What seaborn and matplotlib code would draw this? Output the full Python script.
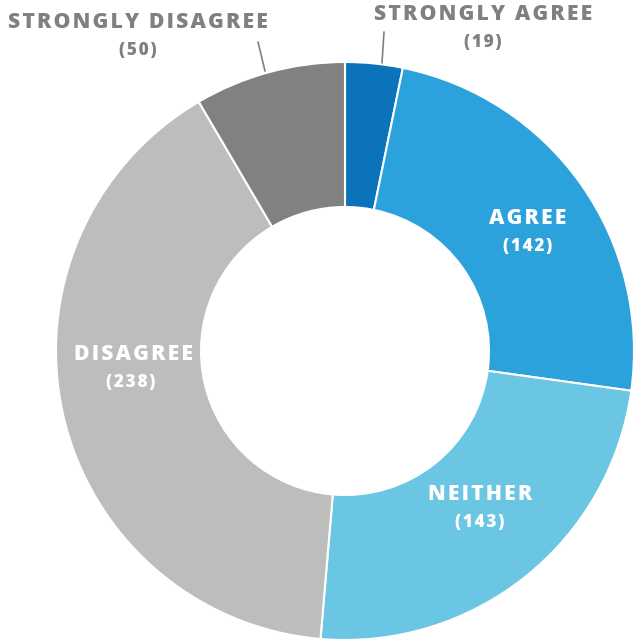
import matplotlib
matplotlib.use('Agg')
import matplotlib.pyplot as plt
import seaborn as sns

# survey response counts, clockwise from 12 o'clock
labels = ['STRONGLY AGREE', 'AGREE', 'NEITHER', 'DISAGREE', 'STRONGLY DISAGREE']
counts = [19, 142, 143, 238, 50]
colors = ['#0a73ba', '#2ca2dc', '#6ac6e3', '#bdbdbb', '#818181']

sns.set_theme(style='white')
plt.rcParams['font.family'] = ['Open Sans', 'DejaVu Sans']

W, H = 638, 642
GAP = '\u200a'


def spaced(s):
    """Fake letter spacing with hair spaces."""
    return GAP.join(s)


def Y(py):
    # pixel row (from top) -> data y
    return H - py


fig = plt.figure(figsize=(W / 100, H / 100), dpi=100)
ax = fig.add_axes([0, 0, 1, 1])

cx, cy = 345, 351
r_out = 289
ax.pie(counts, colors=colors, startangle=90, counterclock=False,
       radius=r_out, center=(cx, Y(cy)),
       wedgeprops={'width': 145, 'edgecolor': 'white', 'linewidth': 1.5})
ax.set_xlim(0, W)
ax.set_ylim(0, H)
ax.set_aspect('equal')
ax.axis('off')

grey = '#808080'
# outside labels with leader lines (pixel positions)
outside = {
    'STRONGLY DISAGREE': ((138, 23), (138, 51), [(258, 42), (265, 71)]),
    'STRONGLY AGREE': ((483, 15), (483, 43), [(384, 32), (382, 63)]),
}
# inside labels
inside = {
    'AGREE': ((528, 218), (528, 246)),
    'NEITHER': ((480, 495), (480, 523)),
    'DISAGREE': ((133, 355), (131, 383)),
}

for lab, n in zip(labels, counts):
    if lab in outside:
        (tx, ty), (nx, ny), line = outside[lab]
        col = grey
        ax.plot([p[0] for p in line], [Y(p[1]) for p in line], color=grey, lw=1.2)
    else:
        (tx, ty), (nx, ny) = inside[lab]
        col = 'white'
    ax.text(tx, Y(ty), spaced(lab), ha='center', va='center', fontsize=15.3,
            fontweight='heavy', color=col)
    ax.text(nx, Y(ny), spaced(f'({n})'), ha='center', va='center', fontsize=12.3,
            fontweight='heavy', color=col)

fig.savefig('out.png', dpi=100)
plt.close(fig)
